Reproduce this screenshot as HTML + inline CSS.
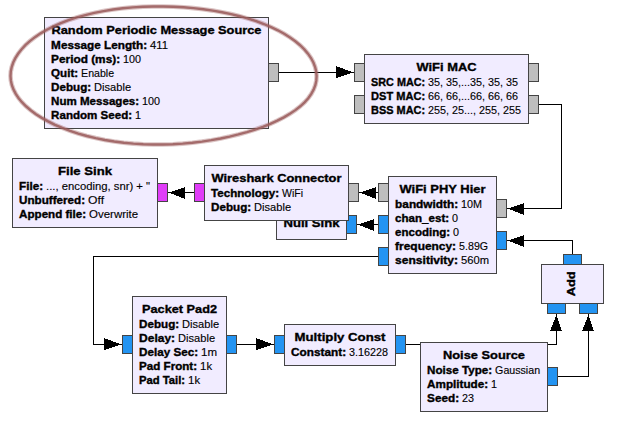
<!DOCTYPE html>
<html><head><meta charset="utf-8"><style>
html,body{margin:0;padding:0;background:#fff;}
body{width:618px;height:436px;overflow:hidden;}
svg{display:block;}
text{font-family:"Liberation Sans",sans-serif;fill:#000;}
.t{font-weight:bold;font-size:11.7px;stroke:#000;stroke-width:0.35px;}
.k{font-weight:bold;font-size:10.6px;stroke:#000;stroke-width:0.35px;}
.v{font-size:10.3px;stroke:#000;stroke-width:0.12px;}
</style></head><body>
<svg width="618" height="436" viewBox="0 0 618 436">
<g shape-rendering="crispEdges">
<rect x="279" y="72" width="75" height="1" fill="#000"/>
<polygon points="336,66 336,78 353.2,72.5" fill="#000"/>
<rect x="539" y="104" width="23" height="1" fill="#000"/>
<rect x="561" y="104" width="1" height="105" fill="#000"/>
<rect x="507" y="208" width="55" height="1" fill="#000"/>
<polygon points="524,203 524,215 507.8,208.5" fill="#000"/>
<rect x="359" y="192" width="19" height="1" fill="#000"/>
<polygon points="376,187 376,199 359.8,192.5" fill="#000"/>
<rect x="357" y="224" width="21" height="1" fill="#000"/>
<polygon points="374,219 374,231 357.8,224.5" fill="#000"/>
<rect x="168" y="192" width="26" height="1" fill="#000"/>
<polygon points="185,187 185,199 168.8,192.5" fill="#000"/>
<rect x="93" y="256" width="285" height="1" fill="#000"/>
<rect x="93" y="256" width="1" height="89" fill="#000"/>
<rect x="93" y="344" width="29" height="1" fill="#000"/>
<polygon points="104,338 104,350 121.2,344.5" fill="#000"/>
<rect x="237" y="344" width="37" height="1" fill="#000"/>
<polygon points="256,338 256,350 273.2,344.5" fill="#000"/>
<rect x="406" y="344" width="151" height="1" fill="#000"/>
<rect x="556" y="314" width="1" height="31" fill="#000"/>
<polygon points="550,331 562,331 556.5,314.8" fill="#000"/>
<rect x="558" y="376" width="31" height="1" fill="#000"/>
<rect x="588" y="314" width="1" height="63" fill="#000"/>
<polygon points="582,331 594,331 588.5,314.8" fill="#000"/>
<rect x="572" y="240" width="1" height="14" fill="#000"/>
<rect x="507" y="240" width="66" height="1" fill="#000"/>
<polygon points="524,235 524,247 507.8,240.5" fill="#000"/>
</g>
<g shape-rendering="crispEdges"></g>
<rect x="276.5" y="209.5" width="70" height="30" fill="#F1ECFF" stroke="#444444" stroke-width="1"/>
<text x="283.50" y="227.10" class="t" textLength="56.00" lengthAdjust="spacingAndGlyphs">Null Sink</text>
<rect x="346.5" y="215.5" width="10" height="18" fill="#2394F2" stroke="#444444" stroke-width="1"/>
<rect x="44.5" y="17.5" width="224" height="111" fill="#F1ECFF" stroke="#444444" stroke-width="1"/>
<text x="51.50" y="34.20" class="t" textLength="210.00" lengthAdjust="spacingAndGlyphs">Random Periodic Message Source</text>
<text x="51.10" y="49.20" class="k" textLength="96.00" lengthAdjust="spacingAndGlyphs">Message Length:</text>
<text x="150.10" y="49.20" class="v" textLength="18.00" lengthAdjust="spacingAndGlyphs">411</text>
<text x="51.10" y="63.10" class="k" textLength="69.00" lengthAdjust="spacingAndGlyphs">Period (ms):</text>
<text x="123.10" y="63.10" class="v" textLength="18.00" lengthAdjust="spacingAndGlyphs">100</text>
<text x="51.10" y="77.00" class="k" textLength="27.00" lengthAdjust="spacingAndGlyphs">Quit:</text>
<text x="81.10" y="77.00" class="v" textLength="33.00" lengthAdjust="spacingAndGlyphs">Enable</text>
<text x="51.10" y="90.90" class="k" textLength="40.00" lengthAdjust="spacingAndGlyphs">Debug:</text>
<text x="94.10" y="90.90" class="v" textLength="37.00" lengthAdjust="spacingAndGlyphs">Disable</text>
<text x="51.10" y="104.80" class="k" textLength="88.00" lengthAdjust="spacingAndGlyphs">Num Messages:</text>
<text x="142.10" y="104.80" class="v" textLength="18.00" lengthAdjust="spacingAndGlyphs">100</text>
<text x="51.10" y="118.70" class="k" textLength="81.00" lengthAdjust="spacingAndGlyphs">Random Seed:</text>
<text x="135.10" y="118.70" class="v" textLength="6.00" lengthAdjust="spacingAndGlyphs">1</text>
<rect x="364.5" y="54.5" width="164" height="69" fill="#F1ECFF" stroke="#444444" stroke-width="1"/>
<text x="416.50" y="71.20" class="t" textLength="60.00" lengthAdjust="spacingAndGlyphs">WiFi MAC</text>
<text x="371.10" y="86.20" class="k" textLength="54.00" lengthAdjust="spacingAndGlyphs">SRC MAC:</text>
<text x="428.10" y="86.20" class="v" textLength="90.00" lengthAdjust="spacingAndGlyphs">35, 35,...35, 35, 35</text>
<text x="371.10" y="100.10" class="k" textLength="54.00" lengthAdjust="spacingAndGlyphs">DST MAC:</text>
<text x="428.10" y="100.10" class="v" textLength="90.00" lengthAdjust="spacingAndGlyphs">66, 66,...66, 66, 66</text>
<text x="371.10" y="114.00" class="k" textLength="54.00" lengthAdjust="spacingAndGlyphs">BSS MAC:</text>
<text x="428.10" y="114.00" class="v" textLength="93.00" lengthAdjust="spacingAndGlyphs">255, 25..., 255, 255</text>
<rect x="12.5" y="158.5" width="145" height="69" fill="#F1ECFF" stroke="#444444" stroke-width="1"/>
<text x="58.00" y="175.20" class="t" textLength="54.00" lengthAdjust="spacingAndGlyphs">File Sink</text>
<text x="19.10" y="190.20" class="k" textLength="24.00" lengthAdjust="spacingAndGlyphs">File:</text>
<text x="46.10" y="190.20" class="v" textLength="104.00" lengthAdjust="spacingAndGlyphs">..., encoding, snr) + &quot;</text>
<text x="19.10" y="204.10" class="k" textLength="66.00" lengthAdjust="spacingAndGlyphs">Unbuffered:</text>
<text x="88.10" y="204.10" class="v" textLength="16.00" lengthAdjust="spacingAndGlyphs">Off</text>
<text x="19.10" y="218.00" class="k" textLength="67.00" lengthAdjust="spacingAndGlyphs">Append file:</text>
<text x="89.10" y="218.00" class="v" textLength="49.00" lengthAdjust="spacingAndGlyphs">Overwrite</text>
<rect x="204.5" y="165.5" width="144" height="55" fill="#F1ECFF" stroke="#444444" stroke-width="1"/>
<text x="211.50" y="182.20" class="t" textLength="130.00" lengthAdjust="spacingAndGlyphs">Wireshark Connector</text>
<text x="211.10" y="197.20" class="k" textLength="68.00" lengthAdjust="spacingAndGlyphs">Technology:</text>
<text x="282.10" y="197.20" class="v" textLength="21.00" lengthAdjust="spacingAndGlyphs">WiFi</text>
<text x="211.10" y="211.10" class="k" textLength="40.00" lengthAdjust="spacingAndGlyphs">Debug:</text>
<text x="254.10" y="211.10" class="v" textLength="37.00" lengthAdjust="spacingAndGlyphs">Disable</text>
<rect x="388.5" y="176.5" width="108" height="97" fill="#F1ECFF" stroke="#444444" stroke-width="1"/>
<text x="399.50" y="193.20" class="t" textLength="86.00" lengthAdjust="spacingAndGlyphs">WiFi PHY Hier</text>
<text x="395.10" y="208.20" class="k" textLength="63.00" lengthAdjust="spacingAndGlyphs">bandwidth:</text>
<text x="461.10" y="208.20" class="v" textLength="21.00" lengthAdjust="spacingAndGlyphs">10M</text>
<text x="395.10" y="222.10" class="k" textLength="54.00" lengthAdjust="spacingAndGlyphs">chan_est:</text>
<text x="452.10" y="222.10" class="v" textLength="6.00" lengthAdjust="spacingAndGlyphs">0</text>
<text x="395.10" y="236.00" class="k" textLength="55.00" lengthAdjust="spacingAndGlyphs">encoding:</text>
<text x="453.10" y="236.00" class="v" textLength="6.00" lengthAdjust="spacingAndGlyphs">0</text>
<text x="395.10" y="249.90" class="k" textLength="61.00" lengthAdjust="spacingAndGlyphs">frequency:</text>
<text x="459.10" y="249.90" class="v" textLength="29.00" lengthAdjust="spacingAndGlyphs">5.89G</text>
<text x="395.10" y="263.80" class="k" textLength="63.00" lengthAdjust="spacingAndGlyphs">sensitivity:</text>
<text x="461.10" y="263.80" class="v" textLength="28.00" lengthAdjust="spacingAndGlyphs">560m</text>
<rect x="132.5" y="296.5" width="94" height="97" fill="#F1ECFF" stroke="#444444" stroke-width="1"/>
<text x="142.00" y="313.20" class="t" textLength="75.00" lengthAdjust="spacingAndGlyphs">Packet Pad2</text>
<text x="139.10" y="328.20" class="k" textLength="40.00" lengthAdjust="spacingAndGlyphs">Debug:</text>
<text x="182.10" y="328.20" class="v" textLength="37.00" lengthAdjust="spacingAndGlyphs">Disable</text>
<text x="139.10" y="342.10" class="k" textLength="36.00" lengthAdjust="spacingAndGlyphs">Delay:</text>
<text x="178.10" y="342.10" class="v" textLength="37.00" lengthAdjust="spacingAndGlyphs">Disable</text>
<text x="139.10" y="356.00" class="k" textLength="59.00" lengthAdjust="spacingAndGlyphs">Delay Sec:</text>
<text x="201.10" y="356.00" class="v" textLength="16.00" lengthAdjust="spacingAndGlyphs">1m</text>
<text x="139.10" y="369.90" class="k" textLength="58.00" lengthAdjust="spacingAndGlyphs">Pad Front:</text>
<text x="200.10" y="369.90" class="v" textLength="12.00" lengthAdjust="spacingAndGlyphs">1k</text>
<text x="139.10" y="383.80" class="k" textLength="46.00" lengthAdjust="spacingAndGlyphs">Pad Tail:</text>
<text x="188.10" y="383.80" class="v" textLength="12.00" lengthAdjust="spacingAndGlyphs">1k</text>
<rect x="284.5" y="324.5" width="111" height="41" fill="#F1ECFF" stroke="#444444" stroke-width="1"/>
<text x="294.50" y="341.20" class="t" textLength="91.00" lengthAdjust="spacingAndGlyphs">Multiply Const</text>
<text x="291.10" y="356.20" class="k" textLength="55.00" lengthAdjust="spacingAndGlyphs">Constant:</text>
<text x="349.10" y="356.20" class="v" textLength="39.00" lengthAdjust="spacingAndGlyphs">3.16228</text>
<rect x="420.5" y="342.5" width="127" height="69" fill="#F1ECFF" stroke="#444444" stroke-width="1"/>
<text x="443.00" y="359.20" class="t" textLength="82.00" lengthAdjust="spacingAndGlyphs">Noise Source</text>
<text x="427.10" y="374.20" class="k" textLength="65.00" lengthAdjust="spacingAndGlyphs">Noise Type:</text>
<text x="495.10" y="374.20" class="v" textLength="45.00" lengthAdjust="spacingAndGlyphs">Gaussian</text>
<text x="427.10" y="388.10" class="k" textLength="61.00" lengthAdjust="spacingAndGlyphs">Amplitude:</text>
<text x="491.10" y="388.10" class="v" textLength="6.00" lengthAdjust="spacingAndGlyphs">1</text>
<text x="427.10" y="402.00" class="k" textLength="32.00" lengthAdjust="spacingAndGlyphs">Seed:</text>
<text x="462.10" y="402.00" class="v" textLength="12.00" lengthAdjust="spacingAndGlyphs">23</text>
<rect x="541.5" y="264.5" width="62" height="39" fill="#F1ECFF" stroke="#444444" stroke-width="1"/>
<text transform="translate(574.6,296.30) rotate(-90)" x="0" y="0" class="t" textLength="25.00" lengthAdjust="spacingAndGlyphs">Add</text>
<g shape-rendering="crispEdges">
<rect x="268.5" y="63.5" width="10" height="18" fill="#BEBEBE" stroke="#444444" stroke-width="1"/>
<rect x="354.5" y="63.5" width="10" height="18" fill="#BEBEBE" stroke="#444444" stroke-width="1"/>
<rect x="354.5" y="95.5" width="10" height="18" fill="#BEBEBE" stroke="#444444" stroke-width="1"/>
<rect x="528.5" y="63.5" width="10" height="18" fill="#BEBEBE" stroke="#444444" stroke-width="1"/>
<rect x="528.5" y="95.5" width="10" height="18" fill="#BEBEBE" stroke="#444444" stroke-width="1"/>
<rect x="157.5" y="183.5" width="10" height="18" fill="#E03DF8" stroke="#444444" stroke-width="1"/>
<rect x="194.5" y="183.5" width="10" height="18" fill="#E03DF8" stroke="#444444" stroke-width="1"/>
<rect x="348.5" y="183.5" width="10" height="18" fill="#BEBEBE" stroke="#444444" stroke-width="1"/>
<rect x="378.5" y="183.5" width="10" height="18" fill="#BEBEBE" stroke="#444444" stroke-width="1"/>
<rect x="378.5" y="215.5" width="10" height="18" fill="#2394F2" stroke="#444444" stroke-width="1"/>
<rect x="378.5" y="247.5" width="10" height="18" fill="#2394F2" stroke="#444444" stroke-width="1"/>
<rect x="496.5" y="199.5" width="10" height="18" fill="#BEBEBE" stroke="#444444" stroke-width="1"/>
<rect x="496.5" y="231.5" width="10" height="18" fill="#2394F2" stroke="#444444" stroke-width="1"/>
<rect x="122.5" y="335.5" width="10" height="18" fill="#2394F2" stroke="#444444" stroke-width="1"/>
<rect x="226.5" y="335.5" width="10" height="18" fill="#2394F2" stroke="#444444" stroke-width="1"/>
<rect x="274.5" y="335.5" width="10" height="18" fill="#2394F2" stroke="#444444" stroke-width="1"/>
<rect x="395.5" y="335.5" width="10" height="18" fill="#2394F2" stroke="#444444" stroke-width="1"/>
<rect x="547.5" y="367.5" width="10" height="18" fill="#2394F2" stroke="#444444" stroke-width="1"/>
<rect x="563.5" y="254.5" width="18" height="10" fill="#2394F2" stroke="#444444" stroke-width="1"/>
<rect x="547.5" y="303.5" width="18" height="10" fill="#2394F2" stroke="#444444" stroke-width="1"/>
<rect x="579.5" y="303.5" width="18" height="10" fill="#2394F2" stroke="#444444" stroke-width="1"/>
</g>
<path transform="translate(0,0.4)" d="M10.51,75.57 L10.79,71.08 L11.69,66.60 L13.21,62.14 L15.34,57.72 L18.08,53.34 L21.42,49.04 L25.35,44.83 L29.87,40.73 L34.97,36.77 L40.64,32.97 L46.85,29.34 L53.59,25.92 L60.84,22.72 L68.57,19.76 L76.74,17.07 L85.33,14.64 L94.29,12.51 L103.57,10.67 L113.13,9.13 L122.91,7.90 L132.88,6.98 L142.96,6.37 L153.12,6.05 L163.29,6.04 L173.43,6.32 L183.49,6.88 L193.43,7.72 L203.19,8.82 L212.74,10.20 L222.05,11.82 L231.08,13.70 L239.81,15.82 L248.19,18.19 L256.21,20.78 L263.84,23.60 L271.06,26.65 L277.84,29.90 L284.16,33.36 L290.00,37.01 L295.32,40.85 L300.10,44.84 L304.32,48.98 L307.96,53.25 L310.99,57.63 L313.38,62.09 L315.12,66.60 L316.20,71.15 L316.60,75.71 L316.30,80.25 L315.32,84.75 L313.65,89.18 L311.29,93.54 L308.27,97.78 L304.59,101.91 L300.29,105.89 L295.38,109.73 L289.89,113.42 L283.87,116.93 L277.34,120.26 L270.35,123.41 L262.92,126.38 L255.10,129.14 L246.93,131.70 L238.43,134.05 L229.65,136.19 L220.62,138.09 L211.37,139.76 L201.93,141.18 L192.35,142.33 L182.64,143.22 L172.84,143.83 L162.99,144.14 L153.12,144.15 L143.27,143.86 L133.48,143.25 L123.78,142.33 L114.23,141.09 L104.86,139.55 L95.71,137.70 L86.84,135.57 L78.29,133.15 L70.10,130.47 L62.31,127.54 L54.97,124.39 L48.10,121.02 L41.74,117.47 L35.93,113.74 L30.67,109.87 L26.00,105.87 L21.93,101.75 L18.47,97.54 L15.62,93.25 L13.40,88.89 L11.81,84.48 L10.85,80.04 Z" fill="none" stroke="#9A5A5A" stroke-opacity="0.35" stroke-width="4.6"/><path transform="translate(0,0.4)" d="M10.51,75.57 L10.79,71.08 L11.69,66.60 L13.21,62.14 L15.34,57.72 L18.08,53.34 L21.42,49.04 L25.35,44.83 L29.87,40.73 L34.97,36.77 L40.64,32.97 L46.85,29.34 L53.59,25.92 L60.84,22.72 L68.57,19.76 L76.74,17.07 L85.33,14.64 L94.29,12.51 L103.57,10.67 L113.13,9.13 L122.91,7.90 L132.88,6.98 L142.96,6.37 L153.12,6.05 L163.29,6.04 L173.43,6.32 L183.49,6.88 L193.43,7.72 L203.19,8.82 L212.74,10.20 L222.05,11.82 L231.08,13.70 L239.81,15.82 L248.19,18.19 L256.21,20.78 L263.84,23.60 L271.06,26.65 L277.84,29.90 L284.16,33.36 L290.00,37.01 L295.32,40.85 L300.10,44.84 L304.32,48.98 L307.96,53.25 L310.99,57.63 L313.38,62.09 L315.12,66.60 L316.20,71.15 L316.60,75.71 L316.30,80.25 L315.32,84.75 L313.65,89.18 L311.29,93.54 L308.27,97.78 L304.59,101.91 L300.29,105.89 L295.38,109.73 L289.89,113.42 L283.87,116.93 L277.34,120.26 L270.35,123.41 L262.92,126.38 L255.10,129.14 L246.93,131.70 L238.43,134.05 L229.65,136.19 L220.62,138.09 L211.37,139.76 L201.93,141.18 L192.35,142.33 L182.64,143.22 L172.84,143.83 L162.99,144.14 L153.12,144.15 L143.27,143.86 L133.48,143.25 L123.78,142.33 L114.23,141.09 L104.86,139.55 L95.71,137.70 L86.84,135.57 L78.29,133.15 L70.10,130.47 L62.31,127.54 L54.97,124.39 L48.10,121.02 L41.74,117.47 L35.93,113.74 L30.67,109.87 L26.00,105.87 L21.93,101.75 L18.47,97.54 L15.62,93.25 L13.40,88.89 L11.81,84.48 L10.85,80.04 Z" fill="none" stroke="#9A5A5A" stroke-opacity="0.85" stroke-width="2.4"/>
</svg>
</body></html>
